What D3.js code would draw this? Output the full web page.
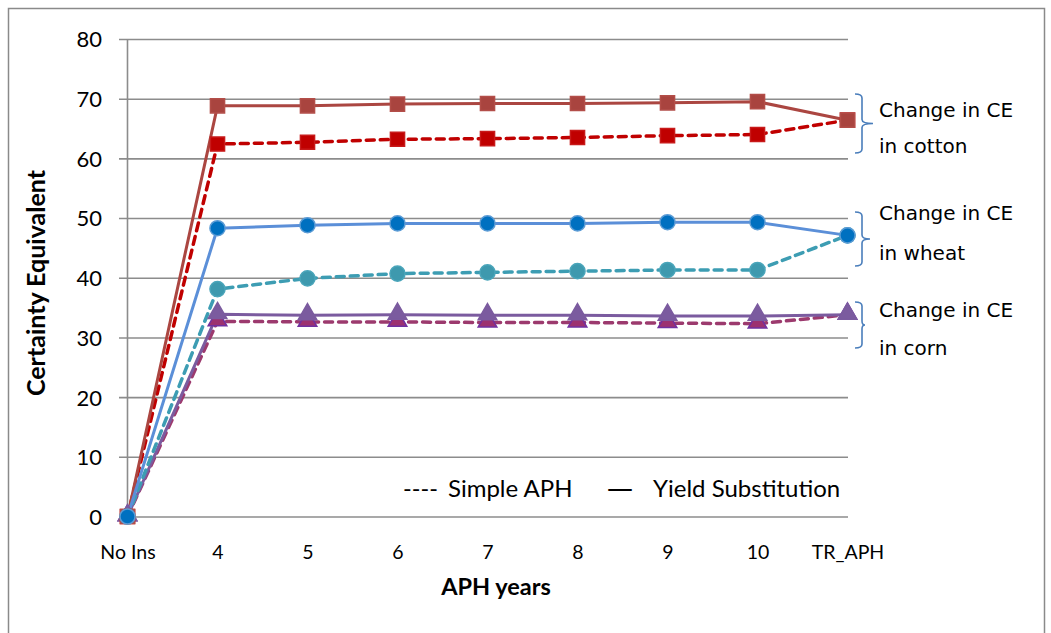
<!DOCTYPE html>
<html>
<head>
<meta charset="utf-8">
<script src="https://cdn.jsdelivr.net/npm/d3@7"></script>
<style>
  html, body { margin: 0; padding: 0; background: #fff; }
  svg { display: block; }
</style>
</head>
<body>
<svg id="chart" width="1051" height="633"></svg>
<script>
// Category axis (APH years) and value ticks
const categories = ["No Ins", "4", "5", "6", "7", "8", "9", "10", "TR_APH"];
const yTicks = [0, 10, 20, 30, 40, 50, 60, 70, 80];

// Certainty equivalent by APH method and crop
const cottonYieldSub = [0, 68.8, 68.8, 69.1, 69.2, 69.2, 69.3, 69.5, 66.4];
const cottonSimple   = [0, 62.4, 62.7, 63.2, 63.3, 63.5, 63.8, 64.0, 66.4];
const wheatYieldSub  = [0, 48.3, 48.8, 49.1, 49.1, 49.1, 49.3, 49.3, 47.1];
const wheatSimple    = [0, 38.1, 39.9, 40.7, 40.9, 41.1, 41.3, 41.3, 47.1];
const cornYieldSub   = [0, 33.9, 33.7, 33.8, 33.7, 33.7, 33.6, 33.6, 33.8];
const cornSimple     = [0, 32.7, 32.6, 32.6, 32.5, 32.5, 32.4, 32.3, 33.8];

const annotations = [
  ["Change in CE", "in cotton"],
  ["Change in CE", "in wheat"],
  ["Change in CE", "in corn"]
];
// legend: [line-style glyph, label]
const legendItems = [["----", "Simple APH"], ["\u2014", "Yield Substitution"]];

const svg = d3.select("#chart");
const FONT = "Lato, 'Open Sans', sans-serif";

// outer chart frame
svg.append("rect")
  .attr("x", 8.5).attr("y", 8.5)
  .attr("width", 1036).attr("height", 640)
  .attr("fill", "#fff").attr("stroke", "#8a8a8a").attr("stroke-width", 1.5);

const x = d3.scalePoint().domain(categories).range([127.5, 847.5]);
const y = d3.scaleLinear().domain([0, 80]).range([516.5, 39]);

// horizontal gridlines with left tick stubs
const yAxis = d3.axisLeft(y).tickValues(yTicks).tickSize(729).tickFormat(d => d);
const gy = svg.append("g").attr("transform", "translate(848,0)").call(yAxis);
gy.select(".domain").remove();
gy.selectAll(".tick line").attr("stroke", "#8c8c8c").attr("stroke-width", 1.6);
gy.selectAll(".tick text")
  .attr("x", -746).attr("dy", "0.36em")
  .attr("font-family", FONT).attr("font-size", 22).attr("fill", "#000");

// vertical value axis line
svg.append("line")
  .attr("x1", 127.5).attr("x2", 127.5)
  .attr("y1", y(80)).attr("y2", y(0))
  .attr("stroke", "#8c8c8c").attr("stroke-width", 1.6);

// category labels
const xAxis = d3.axisBottom(x).tickSize(0).tickPadding(0);
const gx = svg.append("g").attr("transform", `translate(0,${y(0)})`).call(xAxis);
gx.select(".domain").remove();
gx.selectAll(".tick text")
  .attr("y", 42.5).attr("dy", 0)
  .attr("font-family", FONT).attr("font-size", 19.5).attr("fill", "#000");

// axis titles
svg.append("text")
  .attr("x", 496).attr("y", 595)
  .attr("text-anchor", "middle")
  .attr("font-family", FONT).attr("font-size", 23.5).attr("font-weight", "bold")
  .text("APH years");
svg.append("text")
  .attr("transform", "translate(45,283) rotate(-90)")
  .attr("text-anchor", "middle")
  .attr("font-family", FONT).attr("font-size", 25).attr("font-weight", "bold")
  .text("Certainty Equivalent");

// legend panel
const lg = svg.append("g");
lg.append("rect")
  .attr("x", 385).attr("y", 468).attr("width", 462).attr("height", 46)
  .attr("fill", "#fff");
const legendPos = [{ gx: 403, tx: 448 }, { gx: 607, tx: 653 }];
legendItems.forEach((item, i) => {
  lg.append("text")
    .attr("x", legendPos[i].gx).attr("y", 497)
    .attr("font-family", i === 0 ? FONT : "'DejaVu Sans', sans-serif")
    .attr("font-size", i === 0 ? 23.5 : 26).attr("fill", "#000")
    .text(item[0]);
  lg.append("text")
    .attr("x", legendPos[i].tx).attr("y", 497)
    .attr("font-family", FONT).attr("font-size", 24).attr("fill", "#000")
    .text(item[1]);
});

// series definitions
const series = [
  { values: cornSimple, line: "#9c3a6e", dash: true, marker: "triangle", fill: "#9c3170", stroke: "#7030a0" },
  { values: cornYieldSub, line: "#7b5b9f", dash: false, marker: "triangle", fill: "#7b5b9f", stroke: "#7b5b9f" },
  { values: wheatSimple, line: "#3d9db3", dash: true, marker: "circle", fill: "#3e99ae", stroke: "#4aa5ba" },
  { values: cottonSimple, line: "#c00000", dash: true, marker: "square", fill: "#c00000", stroke: "#c81a1a" },
  { values: cottonYieldSub, line: "#ab4641", dash: false, marker: "square", fill: "#a9443f", stroke: "#b34e49" },
  { values: wheatYieldSub, line: "#5b8fd8", dash: false, marker: "circle", fill: "#0070c0", stroke: "#5b9bd5" }
];

const lineGen = d3.line()
  .x((d, i) => x(categories[i]))
  .y(d => y(d));

const symbols = {
  square: d3.symbol().type(d3.symbolSquare).size(200),
  circle: d3.symbol().type(d3.symbolCircle).size(180),
  triangle: d3.symbol().type(d3.symbolTriangle).size(150)
};

series.forEach(s => {
  svg.append("path")
    .datum(s.values)
    .attr("d", lineGen)
    .attr("fill", "none")
    .attr("stroke", s.line)
    .attr("stroke-width", s.dash ? 3.5 : 3)
    .attr("stroke-dasharray", s.dash ? "8,6" : null)
    .attr("stroke-linecap", s.dash ? "round" : "butt")
    .attr("stroke-linejoin", "round");
});

series.forEach(s => {
  svg.append("g").selectAll("path")
    .data(s.values)
    .join("path")
    .attr("d", symbols[s.marker])
    .attr("transform", (d, i) => `translate(${x(categories[i])},${y(d) + (s.marker === "triangle" ? -1 : 0)})`)
    .attr("fill", s.fill)
    .attr("stroke", s.stroke)
    .attr("stroke-width", 1.5);
});

// brackets and notes on the right
const notes = [
  { top: 94, bottom: 153, tipX: 873, textY: [117, 153] },
  { top: 212, bottom: 266, tipX: 870, textY: [220, 260] },
  { top: 302, bottom: 348, tipX: 865, textY: [317, 355] }
];
notes.forEach((n, k) => {
  const mid = (n.top + n.bottom) / 2;
  const x0 = 855, x1 = 862;
  const r = 4;
  svg.append("path")
    .attr("d", `M${x0},${n.top} Q${x1},${n.top} ${x1},${n.top + r}
                L${x1},${mid - r} Q${x1},${mid} ${n.tipX},${mid}
                Q${x1},${mid} ${x1},${mid + r}
                L${x1},${n.bottom - r} Q${x1},${n.bottom} ${x0},${n.bottom}`)
    .attr("fill", "none")
    .attr("stroke", "#4a7ebb")
    .attr("stroke-width", 1.6);
  annotations[k].forEach((t, j) => {
    svg.append("text")
      .attr("x", 879).attr("y", n.textY[j])
      .attr("font-family", "'DejaVu Sans', sans-serif")
      .attr("font-size", 20).attr("fill", "#000")
      .text(t);
  });
});
</script>
</body>
</html>
